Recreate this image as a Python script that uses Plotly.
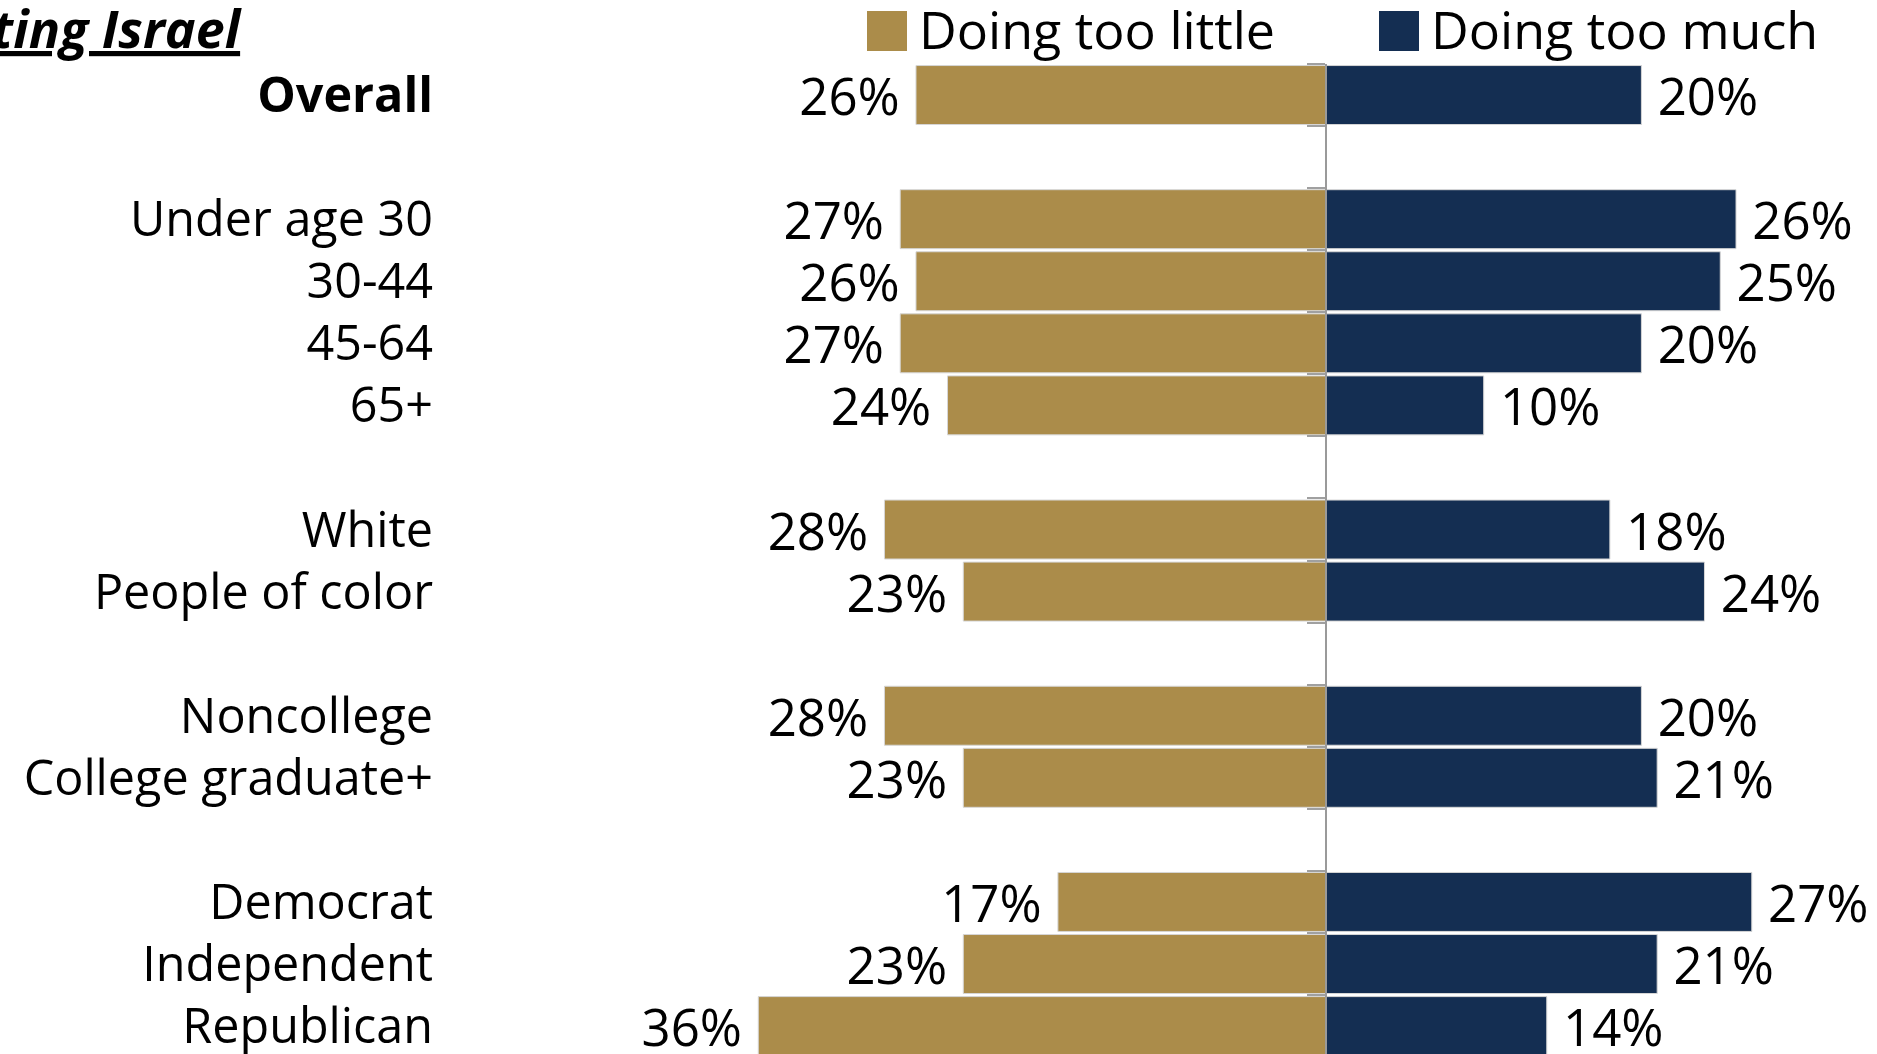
import plotly.graph_objects as go

# ---- data ----
groups = ["Overall", " ", "Under age 30", "30-44", "45-64", "65+", "  ",
          "White", "People of color", "   ", "Noncollege", "College graduate+",
          "    ", "Democrat", "Independent", "Republican"]
too_little = [26, None, 27, 26, 27, 24, None, 28, 23, None, 28, 23, None, 17, 23, 36]
too_much = [20, None, 26, 25, 20, 10, None, 18, 24, None, 20, 21, None, 27, 21, 14]
series_names = ["Doing too little", "Doing too much"]
title_text = "U.S. supporting Israel"

# ---- style ----
W, H = 1877, 1054
L, R, T, B = 434, 0, 0, 0
GOLD = "#AB8C4A"
NAVY = "#142E52"
FONT = "Open Sans"
PX_PER_PCT = 15.77
ZERO_PX = 1326
PITCH = 62.07
TOP_PX = 64

plot_w = W - L - R
xmin = -(ZERO_PX - L) / PX_PER_PCT
xmax = (W - R - ZERO_PX) / PX_PER_PCT


def px_x(px):
    return (px - L) / plot_w


def px_y(py):
    return 1 - py / H


ytop = 1 - TOP_PX / H
yrange = [-0.5 + (H - TOP_PX) / PITCH, -0.5]

NB = "\u00a0"
fig = go.Figure()
fig.add_trace(go.Bar(
    y=groups, x=[None if v is None else -v for v in too_little], orientation="h",
    name=series_names[0], marker=dict(color=GOLD, line=dict(color="#d6d6d6", width=1)),
    text=["" if v is None else f"{v}%{NB}" for v in too_little],
    textposition="outside", cliponaxis=False, constraintext="none",
    textfont=dict(family=FONT, size=51, color="black"),
    yaxis="y", showlegend=False, hoverinfo="skip",
))
fig.add_trace(go.Bar(
    y=groups, x=too_much, orientation="h",
    name=series_names[1], marker=dict(color=NAVY, line=dict(color="#d6d6d6", width=1)),
    text=["" if v is None else f"{NB}{v}%" for v in too_much],
    textposition="outside", cliponaxis=False, constraintext="none",
    textfont=dict(family=FONT, size=51, color="black"),
    yaxis="y2", showlegend=False, hoverinfo="skip",
))

ticktext = [f"<b>{g}</b>" if g == "Overall" else g for g in groups]

fig.update_layout(
    width=W, height=H,
    margin=dict(l=L, r=R, t=T, b=B, pad=0, autoexpand=False),
    paper_bgcolor="white", plot_bgcolor="white",
    bargap=0.05, barmode="overlay",
    font=dict(family=FONT, color="black"),
    xaxis=dict(range=[xmin, xmax], visible=False, showgrid=False, zeroline=False,
               automargin=False),
    yaxis=dict(type="category", categoryorder="array", categoryarray=groups,
               tickmode="array", tickvals=groups, ticktext=ticktext, automargin=False,
               range=yrange, domain=[0, ytop], showgrid=False, zeroline=False,
               showline=False, ticks="", tickfont=dict(family=FONT, size=48.5, color="black")),
    yaxis2=dict(type="category", categoryorder="array", categoryarray=groups,
                overlaying="y", matches="y", anchor="free", automargin=False,
                position=(0 - xmin) / (xmax - xmin), side="left",
                range=yrange, domain=[0, ytop], showgrid=False, zeroline=False,
                showline=True, linecolor="#9a9a9a", linewidth=2,
                ticks="outside", tickson="boundaries", ticklen=18, tickwidth=2,
                tickcolor="#a0a0a0", showticklabels=False),
)

# legend (custom, large swatches)
legend_items = [(series_names[0], GOLD, 867), (series_names[1], NAVY, 1379)]
for name, color, x0 in legend_items:
    fig.add_shape(type="rect", xref="paper", yref="paper",
                  x0=px_x(x0), x1=px_x(x0 + 40), y0=px_y(51), y1=px_y(11),
                  fillcolor=color, line=dict(width=0))
    fig.add_annotation(text=name, xref="paper", yref="paper",
                       x=px_x(x0 + 50), y=px_y(29), xanchor="left", yanchor="middle",
                       showarrow=False, font=dict(family=FONT, size=52, color="black"))

# title (cropped at left edge)
fig.add_annotation(text=f"<b><i><u>{title_text}</u></i></b>", xref="paper", yref="paper",
                   x=px_x(244), y=px_y(27), xanchor="right", yanchor="middle",
                   showarrow=False, font=dict(family=FONT, size=52, color="black"))

fig.write_html("out.html", config={"displayModeBar": False},
               post_script="document.body.style.margin='0';")
